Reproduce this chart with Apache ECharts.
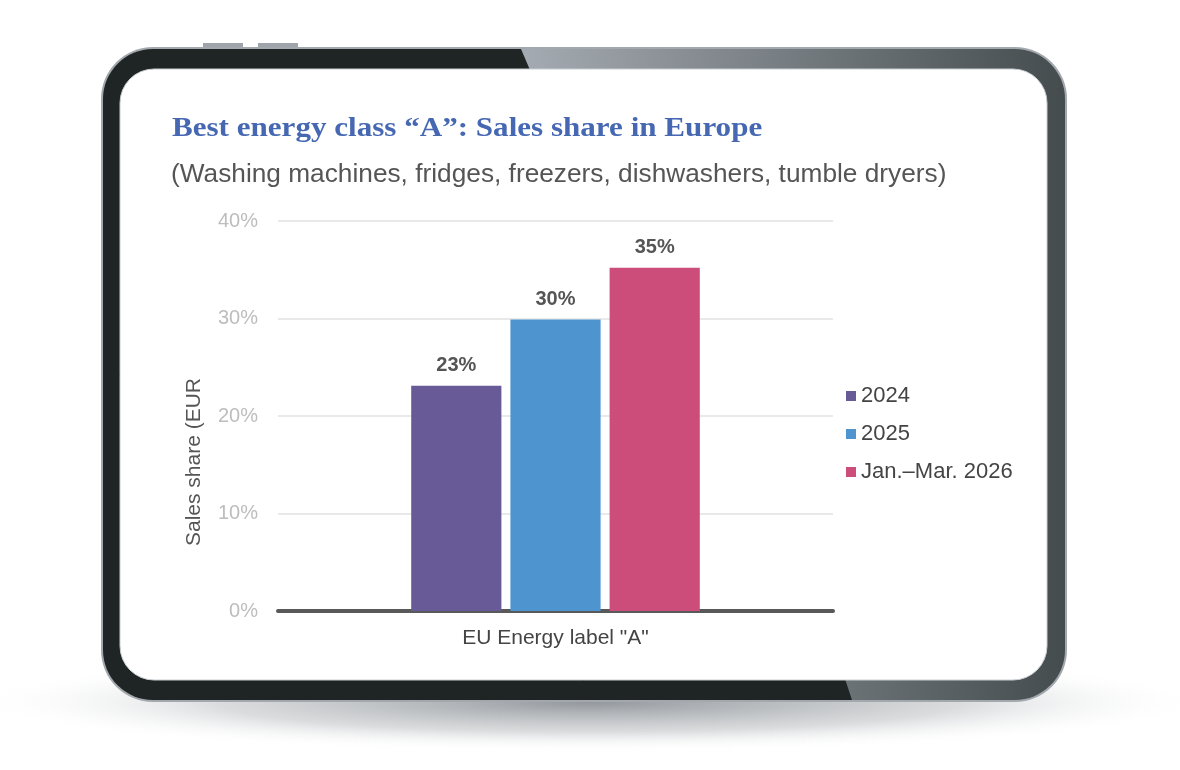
<!DOCTYPE html>
<html>
<head>
<meta charset="utf-8">
<script src="https://cdn.jsdelivr.net/npm/echarts@6/dist/echarts.min.js"></script>
<style>
html,body{margin:0;padding:0;background:#fff;}
#chart{width:1180px;height:770px;}
</style>
</head>
<body>
<div id="chart"></div>
<script>
var categories = ['EU Energy label "A"'];
var seriesNames = ['2024', '2025', 'Jan.\u2013Mar. 2026'];
var values2024 = [23.1];
var values2025 = [29.9];
var values2026 = [35.2];
var yTicks = [0, 10, 20, 30, 40];
var seriesColors = ['#685a96', '#4e95d0', '#cc4c7a'];

var chart = echarts.init(document.getElementById('chart'), null, {renderer: 'canvas'});

var frame = [
  // shadow under the tablet
  {type: 'circle', x: 590, y: 702, scaleX: 6.2, scaleY: 0.5, z: -10,
   shape: {cx: 0, cy: 0, r: 100},
   style: {fill: new echarts.graphic.RadialGradient(0.5, 0.5, 0.5, [
     {offset: 0, color: 'rgba(110,116,122,0.75)'},
     {offset: 0.6, color: 'rgba(150,155,160,0.35)'},
     {offset: 1, color: 'rgba(255,255,255,0)'}])}},
  // top buttons
  {type: 'rect', z: -9, shape: {x: 203, y: 43, width: 40, height: 6}, style: {fill: '#9ea4aa'}},
  {type: 'rect', z: -9, shape: {x: 258, y: 43, width: 40, height: 6}, style: {fill: '#9ea4aa'}},
  // outer rim
  {type: 'rect', z: -8, shape: {x: 101, y: 47, width: 966, height: 655, r: 52}, style: {fill: '#a2a8ae'}},
  // body
  {type: 'rect', z: -7, shape: {x: 103, y: 49, width: 962, height: 651, r: 50},
   style: {fill: new echarts.graphic.LinearGradient(0, 0, 1, 0, [
     {offset: 0, color: '#1f2524'},
     {offset: 0.4345, color: '#1f2524'},
     {offset: 0.4346, color: '#a5abb2'},
     {offset: 1, color: '#454c4e'}])}},
  // slanted top edge of dark part
  {type: 'polygon', z: -6, shape: {points: [[515, 49], [521, 49], [530, 70], [515, 70]]}, style: {fill: '#1f2524'}},
  // dark bottom bezel
  {type: 'polygon', z: -6, shape: {points: [[500, 679], [845, 679], [852, 700], [500, 700]]}, style: {fill: '#1f2524'}},
  // screen
  {type: 'rect', z: -5, shape: {x: 120, y: 69, width: 927, height: 611, r: 34},
   style: {fill: '#ffffff', stroke: '#c9cdd1', lineWidth: 1}},
  // title
  {type: 'text', z: 10, x: 172, y: 115, scaleX: 1.11,
   style: {text: 'Best energy class \u201cA\u201d: Sales share in Europe', fill: '#4668b3',
     font: 'bold 28px "Liberation Serif", Georgia, serif', verticalAlign: 'top'}},
  {type: 'text', z: 10, x: 171, y: 162, scaleX: 1.01,
   style: {text: '(Washing machines, fridges, freezers, dishwashers, tumble dryers)', fill: '#555555',
     font: '26px "Liberation Sans", Arial, sans-serif', verticalAlign: 'top'}},
  // y axis name (clipped in original)
  {type: 'text', z: 10, x: 184, y: 462, rotation: Math.PI / 2,
   style: {text: 'Sales share (EUR', fill: '#555555', font: '21px "Liberation Sans", Arial, sans-serif',
     align: 'center', verticalAlign: 'top'}}
];

function barSeries(name, data, color) {
  return {
    name: name,
    type: 'bar',
    data: data,
    barGap: '10%',
    barCategoryGap: '48%',
    itemStyle: {color: color},
    label: {
      show: true, position: 'top', distance: 10,
      formatter: function (p) { return Math.round(p.value) + '%'; },
      color: '#555555', fontWeight: 'bold', fontSize: 20,
      fontFamily: '"Liberation Sans", Arial, sans-serif'
    }
  };
}

chart.setOption({
  backgroundColor: 'transparent',
  animation: false,
  graphic: frame,
  grid: {left: 278, right: 347, top: 221, bottom: 159, containLabel: false},
  legend: {
    orient: 'vertical', left: 846, top: 385, padding: 0,
    itemWidth: 10, itemHeight: 10, itemGap: 16, icon: 'rect',
    textStyle: {color: '#444444', fontSize: 22, fontFamily: '"Liberation Sans", Arial, sans-serif', padding: [0, 0, 0, 0]},
    data: seriesNames
  },
  xAxis: {
    type: 'category', data: categories,
    axisLine: {show: true, lineStyle: {color: '#595959', width: 4}},
    axisTick: {show: false},
    axisLabel: {color: '#444444', fontSize: 21, margin: 17, fontFamily: '"Liberation Sans", Arial, sans-serif'}
  },
  yAxis: {
    type: 'value', min: yTicks[0], max: yTicks[yTicks.length - 1], interval: 10,
    axisLine: {show: false}, axisTick: {show: false},
    splitLine: {lineStyle: {color: '#e2e2e2', width: 1.5}},
    axisLabel: {color: '#bdbdbd', fontSize: 20, margin: 20, formatter: '{value}%',
      fontFamily: '"Liberation Sans", Arial, sans-serif'}
  },
  series: [
    barSeries(seriesNames[0], values2024, seriesColors[0]),
    barSeries(seriesNames[1], values2025, seriesColors[1]),
    barSeries(seriesNames[2], values2026, seriesColors[2])
  ]
});
</script>
</body>
</html>
